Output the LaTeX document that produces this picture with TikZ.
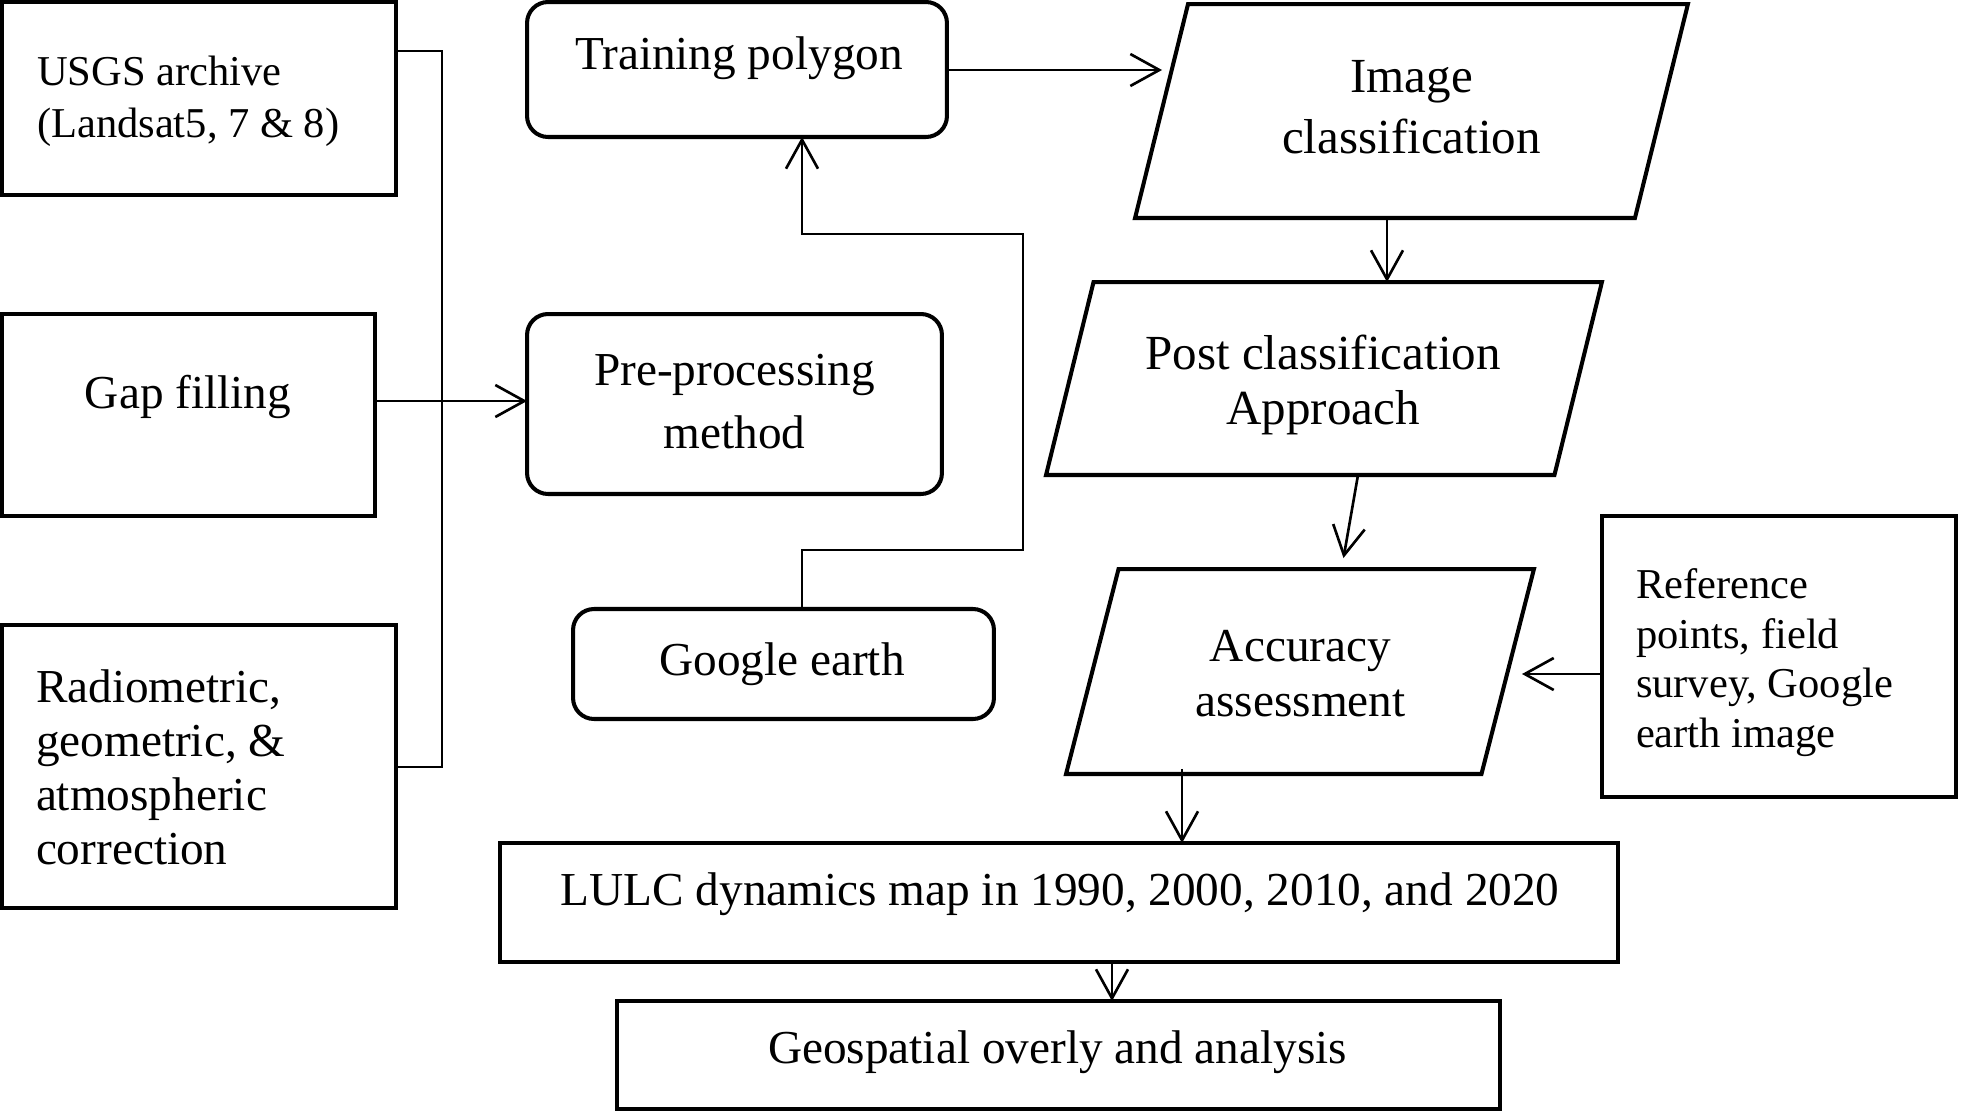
\documentclass[tikz,border=0pt]{standalone}
\usepackage{fontspec}
\setmainfont{Liberation Serif}
\usetikzlibrary{arrows.meta,calc}
\newcommand\fN{\fontsize{26.9pt}{30.7pt}\selectfont}
\newcommand\fS{\fontsize{24.2pt}{29.3pt}\selectfont}
\newcommand\fR{\fontsize{24.2pt}{28.2pt}\selectfont}
\newcommand\fP{\fontsize{26.9pt}{35.8pt}\selectfont}
\newcommand\fI{\fontsize{27.9pt}{34.7pt}\selectfont}
\newcommand\fT{\fontsize{27.9pt}{31.3pt}\selectfont}
\newcommand\fC{\fontsize{26.9pt}{31.3pt}\selectfont}
\begin{document}
\begin{tikzpicture}[x=0.02cm,y=-0.02cm,
  boxbase/.style={draw, line width=2.3pt, inner sep=0pt, outer sep=0pt, fill=white},
  sq/.style={boxbase, rectangle},
  rnd/.style={boxbase, rectangle, rounded corners=0.42cm},
  pframe/.style={rectangle, inner sep=0pt, outer sep=0pt},
  pline/.style={draw, line width=2.3pt, fill=white, line join=miter},
  txt/.style={inner sep=0pt, outer sep=0pt, align=center, font=\fN},
  ln/.style={line width=1.5pt},
  arr/.style={line width=1.5pt, -{Straight Barb[length=0.58cm,width=0.64cm]}}
]
\useasboundingbox (0,0) rectangle (1961,1112);

% boxes
\node[sq, minimum width=7.88cm, minimum height=3.86cm] (usgs) at (199,98.5) {};
\node[sq, minimum width=7.46cm, minimum height=4.04cm] (gap) at (188.5,415) {};
\node[sq, minimum width=7.88cm, minimum height=5.66cm] (rad) at (199,766.5) {};
\node[rnd, minimum width=8.4cm, minimum height=2.7cm] (train) at (737,69.5) {};
\node[rnd, minimum width=8.3cm, minimum height=3.6cm] (pre) at (734.5,404) {};
\node[rnd, minimum width=8.42cm, minimum height=2.2cm] (ge) at (783.5,664) {};
\node[sq, minimum width=7.08cm, minimum height=5.62cm] (ref) at (1779,656.5) {};
\node[sq, minimum width=22.36cm, minimum height=2.38cm] (lulc) at (1059,902.5) {};
\node[sq, minimum width=17.66cm, minimum height=2.16cm] (geo) at (1058.5,1055) {};

% parallelograms (frame nodes + outline)
\node[pframe, minimum width=11.06cm, minimum height=4.28cm] (img) at (1411.5,111) {};
\node[pframe, minimum width=11.12cm, minimum height=3.86cm] (post) at (1324,378.5) {};
\node[pframe, minimum width=9.36cm, minimum height=4.1cm] (acc) at (1300,671.5) {};
\path[pline] ([xshift=1.06cm]img.north west) -- (img.north east) -- ([xshift=-1.06cm]img.south east) -- (img.south west) -- cycle;
\path[pline] ([xshift=0.95cm]post.north west) -- (post.north east) -- ([xshift=-0.95cm]post.south east) -- (post.south west) -- cycle;
\path[pline] ([xshift=1.05cm]acc.north west) -- (acc.north east) -- ([xshift=-1.05cm]acc.south east) -- (acc.south west) -- cycle;

% texts
\node[txt, font=\fS, anchor=west, align=left] (usgsT) at (37,101.5) {USGS archive\\(Landsat5, 7 \& 8)};
\node[txt] (trainT) at (739,58.5) {Training polygon};
\node[txt] (gapT) at (188,397) {Gap filling};
\node[txt, font=\fP] (preT) at (734.5,401.5) {Pre-processing\\method};
\node[txt] (geT) at (782,664.5) {Google earth};
\node[txt, anchor=west, align=left] (radT) at (36,767.5) {Radiometric,\\geometric, \&\\atmospheric\\correction};
\node[txt, font=\fI] (imgT) at (1411.5,107) {Image\\classification};
\node[txt, font=\fT] (postT) at (1323,385) {Post classification\\Approach};
\node[txt, font=\fC] (accT) at (1300.5,674) {Accuracy\\assessment};
\node[txt, font=\fR, anchor=west, align=left] (refT) at (1636,662.5) {Reference\\points, field\\survey, Google\\earth image};
\node[txt] (lulcT) at (1060,894) {LULC dynamics map in 1990, 2000, 2010, and 2020};
\node[txt] (geoT) at (1057.5,1052) {Geospatial overly and analysis};

% connectors
\coordinate (b1) at (442,51);
\coordinate (b2) at (442,767);
\draw[ln] (usgs.east |- b1) -- (b1) -- (b2) -- (rad.east |- b2);
\coordinate (ga) at (0,401);
\draw[arr] (gap.east |- ga) -- (pre.west |- ga);
\coordinate (ta) at (0,70);
\coordinate (tE) at ([xshift=0.54cm]img.west);
\draw[arr] (train.east |- ta) -- (tE |- ta);
\coordinate (iS) at ([xshift=-0.49cm]img.south);
\draw[arr] (iS) -- (iS |- post.north);
\draw[arr] ([xshift=0.68cm]post.south) -- ([xshift=0.87cm,yshift=0.22cm]acc.north);
\coordinate (rT) at (1522,674);
\draw[arr] (ref.west |- rT) -- (rT);
\coordinate (aS) at ([xshift=-2.36cm,yshift=0.1cm]acc.south);
\draw[arr] (aS) -- (aS |- lulc.north);
\coordinate (lS) at ([xshift=1.06cm]lulc.south);
\draw[arr] (lS) -- (lS |- geo.north);
\coordinate (gS) at ([xshift=0.37cm]ge.north);
\coordinate (gR) at (1023,550);
\coordinate (gU) at (1023,234);
\draw[arr] (gS) |- (gR) -- (gU) -| (gS |- train.south);
\end{tikzpicture}
\end{document}
